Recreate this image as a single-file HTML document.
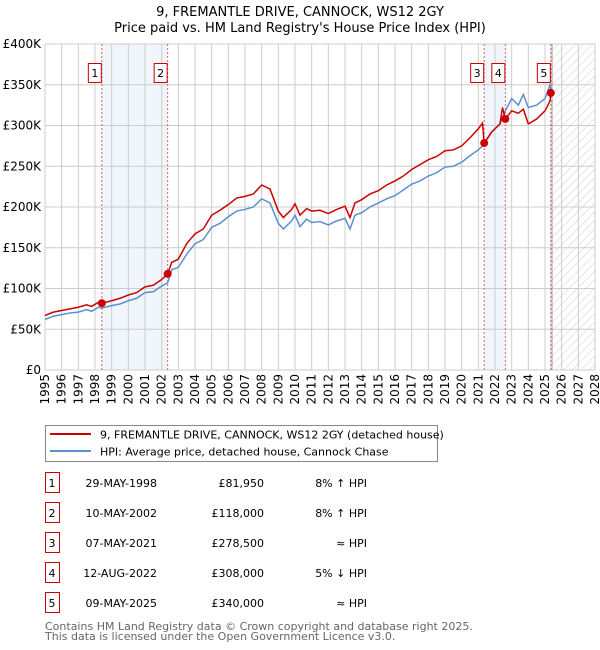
<!DOCTYPE html>
<html><head><meta charset="utf-8"><style>
body{margin:0;background:#fff;}
svg{display:block;font-family:"DejaVu Sans","Liberation Sans",sans-serif;}
</style></head><body>
<svg id="c" width="600" height="650" viewBox="0 0 600 650">
<defs><pattern id="hatch" width="6" height="6" patternUnits="userSpaceOnUse" patternTransform="rotate(45)"><line x1="0" y1="0" x2="0" y2="6" stroke="#ccc" stroke-width="1"/></pattern></defs>
<text x="300" y="16" text-anchor="middle" font-size="13" fill="#000">9, FREMANTLE DRIVE, CANNOCK, WS12 2GY</text>
<text x="300" y="32" text-anchor="middle" font-size="13" fill="#000">Price paid vs. HM Land Registry's House Price Index (HPI)</text>
<g id="plot"></g>
<g>
<rect x="45.5" y="425.5" width="392" height="36" fill="#fff" stroke="#888"/>
<line x1="50" y1="434" x2="91" y2="434" stroke="#cc0000" stroke-width="2"/>
<text x="100" y="438.5" font-size="11">9, FREMANTLE DRIVE, CANNOCK, WS12 2GY (detached house)</text>
<line x1="50" y1="451" x2="91" y2="451" stroke="#5b8fd0" stroke-width="2"/>
<text x="100" y="455.5" font-size="11">HPI: Average price, detached house, Cannock Chase</text>
</g>
<g id="table" font-size="11"></g>
<text x="45" y="630" font-size="11" fill="#666">Contains HM Land Registry data © Crown copyright and database right 2025.</text>
<text x="45" y="640" font-size="11" fill="#666">This data is licensed under the Open Government Licence v3.0.</text>
</svg>
<script>
const dates=[1995.0,1995.5,1996.0,1996.5,1997.0,1997.5,1997.8,1998.2,1998.4,1999.0,1999.5,2000.0,2000.5,2001.0,2001.5,2002.0,2002.36,2002.6,2003.0,2003.5,2004.0,2004.5,2005.0,2005.5,2006.0,2006.5,2007.0,2007.5,2008.0,2008.5,2009.0,2009.3,2009.8,2010.0,2010.3,2010.7,2011.0,2011.5,2012.0,2012.5,2013.0,2013.3,2013.6,2014.0,2014.5,2015.0,2015.5,2016.0,2016.5,2017.0,2017.5,2018.0,2018.5,2019.0,2019.5,2020.0,2020.5,2021.0,2021.25,2021.35,2021.8,2022.3,2022.45,2022.62,2023.0,2023.4,2023.7,2024.0,2024.5,2025.0,2025.3,2025.35];
const hpiValues=[62,66,68,70,71,74,72,77,76,79,81,85,88,95,96,103,107,123,126,142,155,160,175,180,188,195,197,200,210,205,180,173,183,190,176,185,181,182,178,183,186,173,190,193,200,205,210,214,221,228,232,238,242,249,250,255,263,270,275,278,292,302,310,318,333,325,338,322,325,333,350,345];
const priceValues=[67,71,73,75,77,80,78,83,82,85,88,92,95,102,104,111,118,132,136,155,167,173,190,196,203,211,213,216,227,222,195,187,197,204,190,198,195,196,192,197,201,187,205,209,216,220,227,232,238,246,252,258,262,269,270,275,285,296,303,278.5,292,302,322,308,318,315,320,302,308,318,330,340];
const saleDates=[1998.41,2002.36,2021.35,2022.62,2025.35];
const saleValues=[81.95,118,278.5,308,340];
const saleLabels=["1","2","3","4","5"];
const saleDateText=["29-MAY-1998","10-MAY-2002","07-MAY-2021","12-AUG-2022","09-MAY-2025"];
const salePriceText=["£81,950","£118,000","£278,500","£308,000","£340,000"];
const saleHpiText=["8% ↑ HPI","8% ↑ HPI","≈ HPI","5% ↓ HPI","≈ HPI"];
const yTicks=[0,50,100,150,200,250,300,350,400];
const yTickLabels=["£0","£50K","£100K","£150K","£200K","£250K","£300K","£350K","£400K"];
const xYears=[1995,1996,1997,1998,1999,2000,2001,2002,2003,2004,2005,2006,2007,2008,2009,2010,2011,2012,2013,2014,2015,2016,2017,2018,2019,2020,2021,2022,2023,2024,2025,2026,2027,2028];

const X0=45,X1=595,Y0=370,Y1=44;
const xs=t=>X0+(t-1995)/(2028-1995)*(X1-X0);
const ys=v=>Y0-v/400*(Y0-Y1);
const NS="http://www.w3.org/2000/svg";
const plot=document.getElementById('plot');
function mk(tag,attrs,parent){const e=document.createElementNS(NS,tag);for(const k in attrs)e.setAttribute(k,attrs[k]);(parent||plot).appendChild(e);return e;}

// shaded bands
[[0,1],[2,3]].forEach(p=>{
  const r=mk('rect',{x:xs(saleDates[p[0]]),y:Y1,width:xs(saleDates[p[1]])-xs(saleDates[p[0]]),height:Y0-Y1,fill:'#eef4fd',opacity:0.8});
  
  
});
// future hatch
const hx=xs(2025.42);
const hr=mk('rect',{x:hx,y:Y1,width:X1-hx,height:Y0-Y1,fill:'url(#hatch)'});


// gridlines
xYears.forEach(y=>{
  const l=mk('line',{x1:xs(y),x2:xs(y),y1:Y1,y2:Y0,stroke:'#ccc','stroke-width':1});
  
  
  const tx=xs(y)+4,ty=Y0+4;
  const t=mk('text',{x:tx,y:ty,'font-size':12,'text-anchor':'end',transform:`rotate(-90 ${tx} ${ty})`});
  t.textContent=y;
  
  
});
yTicks.forEach((v,i)=>{
  const l=mk('line',{x1:X0,x2:X1,y1:ys(v),y2:ys(v),stroke:'#ccc','stroke-width':1});
  
  
  const t=mk('text',{x:X0-4,y:ys(v)+4,'font-size':12,'text-anchor':'end'});
  t.textContent=yTickLabels[i];
  
  
});
const bl=mk('line',{x1:hx,x2:hx,y1:Y1,y2:Y0,stroke:'#999','stroke-width':1});


// sale lines & labels
saleDates.forEach((d,i)=>{
  const l=mk('line',{x1:xs(d),x2:xs(d),y1:Y1,y2:Y0,stroke:'#e06060','stroke-width':1,'stroke-dasharray':'2,2'});
  
  
  const bx=xs(d)-14;
  const r=mk('rect',{x:bx+0.5,y:63.5,width:13,height:19,fill:'#fff',stroke:'#cc0000'});
  
  
  const t=mk('text',{x:bx+7,y:77,'font-size':11,'text-anchor':'middle'});
  t.textContent=saleLabels[i];
  
  
});
// series
const hp=mk('polyline',{points:dates.map((d,i)=>xs(d)+','+ys(hpiValues[i])).join(' '),fill:'none',stroke:'#5b8fd0','stroke-width':1.5});


const pp=mk('polyline',{points:dates.map((d,i)=>xs(d)+','+ys(priceValues[i])).join(' '),fill:'none',stroke:'#cc0000','stroke-width':1.5});


saleDates.forEach((d,i)=>{
  const c=mk('circle',{cx:xs(d),cy:ys(saleValues[i]),r:4,fill:'#cc0000'});
  
  
});
// table
const tb=document.getElementById('table');
saleDates.forEach((d,i)=>{
  const cy=483+i*30;
  const r=mk('rect',{x:45.5,y:cy-10.5,width:14,height:20,fill:'#fff',stroke:'#cc0000'},tb);
  
  
  const cells=[[52,'middle',saleLabels[i]],[157,'end',saleDateText[i]],[264,'end',salePriceText[i]],[367,'end',saleHpiText[i]]];
  cells.forEach(c=>{
    const t=mk('text',{x:c[0],y:cy+4,'text-anchor':c[1]},tb);
    t.textContent=c[2];
    
    
  });
});
</script>
</body></html>
